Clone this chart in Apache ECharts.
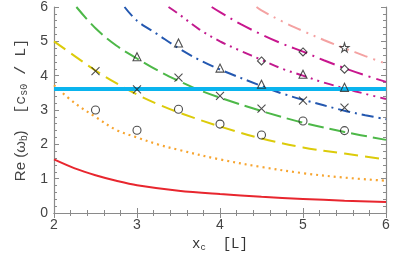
<!DOCTYPE html>
<html><head><meta charset="utf-8">
<script src="https://cdn.jsdelivr.net/npm/echarts@6/dist/echarts.min.js"></script>
<style>html,body{margin:0;padding:0;background:#fff}#c{width:409px;height:253px}</style>
</head><body><div id="c"></div>
<script>
// Curves: [x, Re(omega_b)]
const redCurve = [[2,1.56],[2.25,1.30],[2.5,1.10],[2.75,0.94],[3,0.81],[3.5,0.65],[4,0.55],[4.5,0.47],[5,0.41],[5.5,0.36],[6,0.32]];
const orangeCurve = [[2,3.72],[2.25,3.20],[2.5,2.80],[2.75,2.42],[3,2.20],[3.25,2.00],[3.5,1.84],[4,1.56],[4.5,1.34],[5,1.16],[5.5,1.03],[6,0.94]];
const yellowCurve = [[2,5.0],[2.25,4.57],[2.5,4.15],[2.75,3.78],[3,3.45],[3.25,3.17],[3.5,2.93],[4,2.52],[4.5,2.17],[5,1.91],[5.5,1.73],[6,1.56]];
const greenCurve = [[2.27,6.0],[2.5,5.38],[2.75,4.88],[3,4.50],[3.25,4.15],[3.5,3.85],[3.75,3.58],[4,3.36],[4.5,2.97],[5,2.63],[5.5,2.36],[6,2.13]];
const blueCurve = [[2.85,6.0],[3,5.6],[3.25,5.2],[3.5,4.8],[3.75,4.46],[4,4.18],[4.5,3.70],[4.75,3.48],[5,3.30],[5.5,2.98],[5.75,2.85],[6,2.73]];
const magentaDotCurve = [[3.38,6.0],[3.5,5.8],[3.75,5.35],[4,5.0],[4.25,4.72],[4.5,4.46],[4.75,4.2],[5,4.0],[5.25,3.8],[5.5,3.63],[5.75,3.47],[6,3.32]];
const magentaDashCurve = [[3.9,6.0],[4,5.85],[4.25,5.5],[4.5,5.2],[4.75,4.93],[5,4.7],[5.25,4.45],[5.5,4.22],[5.75,4.01],[6,3.82]];
const pinkCurve = [[4.44,6.0],[4.5,5.9],[4.75,5.58],[5,5.3],[5.25,5.04],[5.5,4.8],[5.75,4.57],[6,4.35]];
const soundLine = [[2,3.61],[6,3.61]];
// Markers
const circlePts = [[2.5,3.0],[3,2.41],[3.5,3.02],[4,2.59],[4.5,2.27],[5,2.68],[5.5,2.4]];
const crossPts = [[2.5,4.13],[3,3.6],[3.5,3.94],[4,3.41],[4.5,3.04],[5,3.27],[5.5,3.07]];
const trianglePts = [[3,4.55],[3.5,4.95],[4,4.22],[4.5,3.75],[5,4.04],[5.5,3.66]];
const diamondPts = [[4.5,4.43],[5,4.69],[5.5,4.19]];
const starPts = [[5.5,4.82]];

const chart = echarts.init(document.getElementById('c'), null, {renderer:'canvas'});
const axisCol = '#8a8a8a';
function curve(data, color, dash, width) {
  return {type:'line', data, smooth:0.35, symbol:'none', clip:true, z:2,
    lineStyle:{color, width:width||2, type:dash, cap:'butt'}};
}
function marks(data, symbol, size) {
  return {type:'scatter', data, symbol, symbolSize:size, z:5,
    itemStyle:{color:'rgba(255,255,255,0)', borderColor:'#222', borderWidth:1.1}};
}
const axBase = {type:'value', splitLine:{show:false},
  axisLine:{show:true, lineStyle:{color:axisCol, width:1.2}},
  axisTick:{show:true, inside:true, length:5, lineStyle:{color:axisCol}},
  minorTick:{show:true, splitNumber:5, length:3, lineStyle:{color:axisCol}}};
chart.setOption({
  animation:false,
  grid:{left:54, right:23, top:7, bottom:40, containLabel:false, outerBoundsMode:'none'},
  xAxis:[
    Object.assign({}, axBase, {min:2, max:6, interval:1, position:'bottom',
      axisLabel:{color:'#444', fontSize:14, fontFamily:'Liberation Sans', margin:5},
      name:'{m|x}{ms|c}{m|  [L]}', nameLocation:'middle', nameGap:23,
      nameTextStyle:{rich:{
        m:{fontFamily:'Liberation Mono', fontSize:14, color:'#333', lineHeight:16},
        ms:{fontFamily:'Liberation Mono', fontSize:9, color:'#333', lineHeight:10, verticalAlign:'bottom'}}}}),
    Object.assign({}, axBase, {min:2, max:6, interval:1, position:'top', axisLabel:{show:false}})
  ],
  yAxis:[
    Object.assign({}, axBase, {min:0, max:6, interval:1, position:'left',
      axisLabel:{color:'#444', fontSize:14, fontFamily:'Liberation Sans', margin:6},
      name:'{t|Re (ω}{ts|b}{t|)    }{m|[c}{ms|s0}{m| / L]}', nameLocation:'middle', nameGap:14, nameRotate:90,
      nameTextStyle:{rich:{
        t:{fontFamily:'Liberation Sans', fontSize:15, color:'#444', lineHeight:17},
        ts:{fontFamily:'Liberation Sans', fontSize:10, color:'#444', lineHeight:10, verticalAlign:'bottom'},
        m:{fontFamily:'Liberation Mono', fontSize:15, color:'#444', lineHeight:17},
        ms:{fontFamily:'Liberation Mono', fontSize:10, color:'#444', lineHeight:10, verticalAlign:'bottom'}}}}),
    Object.assign({}, axBase, {min:0, max:6, interval:1, position:'right', axisLabel:{show:false}})
  ],
  series:[
    curve(redCurve, '#e8262e', 'solid', 2),
    curve(orangeCurve, '#f7a530', [2,4], 2.2),
    curve(yellowCurve, '#dccb0a', [14,7], 2),
    curve(greenCurve, '#4db848', [16,6], 2),
    curve(blueCurve, '#2458b0', [12,5,2,5], 2),
    curve(magentaDotCurve, '#c21a8e', [10,5,2,5,2,5], 2),
    curve(magentaDashCurve, '#c8168e', [16,6,2,6], 2),
    curve(pinkCurve, '#f4a2a2', [14,6,2,6,2,6], 2),
    {type:'line', data:soundLine, symbol:'none', z:3, lineStyle:{color:'#0ab4ee', width:4}},
    marks(circlePts, 'circle', 8),
    marks(crossPts, 'path://M0,0L10,10M10,0L0,10', 8),
    marks(trianglePts, 'triangle', 8),
    marks(diamondPts, 'diamond', 8),
    marks(starPts, 'path://M50,0L61,35L98,35L68,57L79,91L50,70L21,91L32,57L2,35L39,35Z', 9)
  ]
});
</script></body></html>
